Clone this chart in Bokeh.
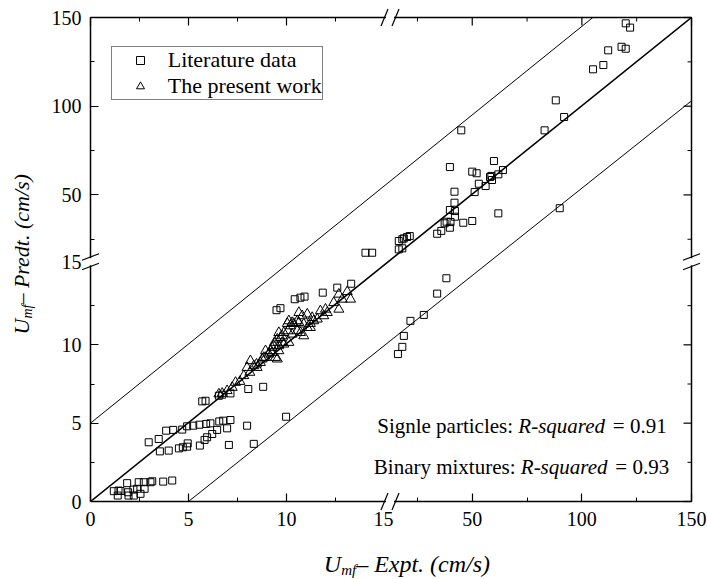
import numpy as np
from bokeh.plotting import figure
from bokeh.models import FixedTicker, Range1d
from bokeh.core.properties import value
from bokeh.embed import file_html
from bokeh.resources import INLINE

# ---- data: minimum fluidization velocity, predicted vs experimental (cm/s) ----
lit_expt = [1.19, 1.39, 1.43, 1.53, 1.87, 1.92, 1.94, 2.19, 2.21, 2.38, 2.46, 2.55, 2.72, 2.76,
            3.06, 3.15, 3.71, 4.17,
            2.97, 3.48, 3.54, 3.99, 3.86, 4.22, 4.68, 4.93, 5.24, 5.56, 5.90, 6.12, 6.57, 6.77,
            7.14, 4.51, 4.71, 4.93, 4.96, 5.58, 5.82, 5.95, 6.21, 6.46, 6.97, 7.06, 7.99, 8.33,
            5.70, 5.87, 6.55, 6.72, 7.14, 8.05, 8.81, 9.98,
            9.49, 9.69, 10.42, 10.71, 10.92, 11.85, 12.59, 13.30,
            14.03, 14.37,
            16.1, 18.1, 18.8, 21.8, 27.9, 34.0, 38.2,
            16.5, 18.1, 16.5, 18.1, 18.8, 20.3, 21.5,
            34.0, 35.9, 39.8, 37.4, 38.3, 40.1, 42.1, 45.9, 50.0, 39.8, 42.1, 41.9, 41.9, 39.8,
            45.0, 50.0, 52.0, 53.0, 51.1, 56.1, 58.1, 58.7, 59.0, 61.9, 64.0, 59.9, 61.9,
            83.0, 88.1, 91.9, 89.9, 105.1, 109.8, 112.0, 118.1, 120.0, 120.0, 122.0]
lit_pred = [0.66, 0.38, 0.70, 0.67, 1.17, 0.59, 0.38, 0.76, 0.38, 0.81, 1.23, 0.49, 1.23, 0.81,
            1.23, 1.29, 1.27, 1.34,
            3.78, 3.99, 3.20, 3.25, 4.52, 4.57, 4.59, 4.80, 4.84, 4.90, 4.95, 4.99, 5.11, 5.16,
            5.20, 3.39, 3.46, 3.50, 3.71, 3.57, 3.93, 4.10, 4.31, 4.57, 4.67, 3.61, 4.84, 3.68,
            6.39, 6.43, 6.75, 6.82, 6.90, 7.18, 7.32, 5.41,
            12.21, 12.34, 12.91, 13.01, 13.08, 13.33, 13.65, 13.90,
            17.4, 17.4,
            9.41, 9.87, 10.57, 11.53, 11.91, 13.27, 14.25,
            19.3, 19.9, 24.0, 25.0, 25.5, 26.3, 26.8,
            28.1, 29.7, 31.5, 34.0, 34.9, 34.7, 37.7, 34.3, 35.3, 41.5, 40.9, 45.6, 51.8, 65.7,
            86.4, 63.1, 62.2, 56.3, 51.6, 55.0, 60.1, 60.7, 58.4, 61.6, 64.0, 69.1, 39.6,
            86.4, 103.3, 93.9, 42.5, 120.8, 123.2, 131.5, 133.5, 132.4, 146.7, 144.3]

pw_expt = [6.55, 6.72, 6.97, 7.23, 7.40, 7.62, 7.82, 8.13, 8.33, 8.47, 8.67, 8.84, 8.76, 9.10,
           9.27, 9.44, 9.53, 9.27, 9.39, 9.53, 9.69, 9.78, 9.86, 10.07, 10.04, 10.20, 10.37,
           10.63, 10.88, 11.22, 11.39, 9.61, 9.86, 10.12, 10.29, 10.55, 10.71, 10.88, 11.06,
           8.50, 8.16, 7.99, 8.93,
           12.67, 13.10, 13.27, 12.67, 11.99, 12.08, 11.90, 11.31, 11.22, 11.06, 10.80, 10.63,
           10.55, 10.29, 10.12, 9.61, 9.78, 9.35, 9.61, 9.18, 8.93, 12.84, 12.41, 11.57, 11.73]
pw_pred = [6.86, 6.90, 7.07, 7.28, 7.60, 7.66, 8.03, 8.24, 8.66, 8.77, 8.87, 9.19, 9.09, 9.41,
           9.51, 9.19, 9.09, 9.83, 10.15, 10.36, 10.46, 10.57, 10.78, 10.89, 11.36, 11.21, 11.36,
           11.42, 11.32, 11.36, 11.53, 9.94, 10.04, 10.15, 10.68, 10.89, 10.78, 10.57, 11.10,
           8.55, 8.98, 8.55, 9.62,
           13.23, 13.39, 12.91, 12.27, 12.27, 12.06, 11.85, 11.74, 11.10, 11.96, 11.85, 12.06,
           11.53, 11.42, 11.53, 10.78, 10.15, 9.94, 9.62, 9.62, 9.19, 12.91, 12.69, 11.64, 12.17]

# parity line and deviation band (end points, cm/s)
parity_x = [0, 150]
parity_y = [0, 150]
upper_x = [0, 105]
upper_y = [5, 150]
lower_x = [5, 150]
lower_y = [0, 103]

major_vals = [0, 5, 10, 50, 100, 150]
minor_vals = [2.5, 7.5, 12.5, 25, 75, 125]
break_val = 15
top_val = 150
r2_single = 0.91
r2_binary = 0.93

# ---- broken axis: 0-15 and 15-150 each get about half of the frame ----
X_LO, X_GAP, X_HI = 294.0, 11.0, 296.0
Y_LO, Y_GAP, Y_HI = 235.0, 9.5, 239.5
W = X_LO + X_GAP + X_HI
H = Y_LO + Y_GAP + Y_HI


def fold(v, lo, gap, hi):
    v = np.asarray(v, dtype=float)
    return np.where(v <= break_val, v / break_val * lo,
                    lo + gap + (v - break_val) / (top_val - break_val) * hi)


def fx(v):
    return fold(v, X_LO, X_GAP, X_HI)


def fy(v):
    return fold(v, Y_LO, Y_GAP, Y_HI)


FONT = "Liberation Serif"
BASE_SHIFT = 8  # lifts alphabetic-baseline text onto its intended baseline

# Times-compatible advance widths (1/1000 em) for laying out mixed-style text
REG = {' ': 250, '(': 333, ')': 333, '-': 333, '.': 250, '/': 278, ':': 278, '=': 564,
       '0': 500, '1': 500, '3': 500, '9': 500, 'B': 667, 'S': 556, 'a': 444, 'b': 500,
       'c': 444, 'd': 500, 'e': 444, 'g': 500, 'i': 278, 'l': 278, 'm': 778, 'n': 500,
       'p': 500, 'r': 333, 's': 389, 't': 278, 'u': 500, 'x': 500, 'y': 500, '\u2013': 500}
ITA = {' ': 250, '(': 333, ')': 333, '-': 333, '.': 250, '/': 278, 'E': 611, 'P': 611,
       'R': 611, 'U': 722, 'a': 500, 'c': 444, 'd': 500, 'e': 444, 'f': 278, 'm': 722,
       'p': 500, 'q': 500, 'r': 389, 's': 389, 't': 278, 'u': 500, 'x': 444}


def advance(s, italic, size):
    table = ITA if italic else REG
    return sum(table[c] for c in s) * size / 1000.0


p = figure(frame_width=int(W), frame_height=int(H),
           x_range=Range1d(0, W), y_range=Range1d(0, H),
           output_backend="svg", toolbar_location=None,
           min_border_left=90, min_border_right=16, min_border_top=17, min_border_bottom=78,
           background_fill_color="white", border_fill_color="white")
p.outline_line_color = None
p.grid.visible = False

xt = [float(v) for v in fx(major_vals)]
yt = [float(v) for v in fy(major_vals)]
xm = [float(v) for v in fx(minor_vals)]
ym = [float(v) for v in fy(minor_vals)]

bottom_axis = p.below[0]
left_axis = p.left[0]


def style_axis(ax, ticks, minors, standoff):
    ax.ticker = FixedTicker(ticks=ticks, minor_ticks=minors)
    ax.axis_line_width = 1.5
    ax.axis_line_color = "black"
    ax.major_tick_in = 8
    ax.major_tick_out = 0
    ax.minor_tick_in = 4
    ax.minor_tick_out = 0
    ax.major_tick_line_width = 1.2
    ax.minor_tick_line_width = 1
    ax.major_tick_line_color = "black"
    ax.minor_tick_line_color = "black"
    ax.major_label_overrides = {t: str(v) for t, v in zip(ticks, major_vals)}
    ax.major_label_text_font = FONT
    ax.major_label_text_font_size = "20px"
    ax.major_label_text_color = "black"
    ax.major_label_standoff = standoff


style_axis(bottom_axis, xt, xm, 10)
style_axis(left_axis, yt, ym, 9)

# top and right frame edges with inward ticks, split at the break
p.segment([0, X_LO + X_GAP - 1.5, W, W], [H, H, 0, Y_LO + Y_GAP - 1.2],
          [X_LO + 1.5, W, W, W], [H, H, Y_LO + 1.2, H],
          line_color="black", line_width=1.5, level="overlay")
p.segment(xt, [H] * len(xt), xt, [H - 8] * len(xt),
          line_color="black", line_width=1.2, level="overlay")
p.segment(xm, [H] * len(xm), xm, [H - 4] * len(xm),
          line_color="black", line_width=1, level="overlay")
p.segment([W] * len(yt), yt, [W - 8] * len(yt), yt,
          line_color="black", line_width=1.2, level="overlay")
p.segment([W] * len(ym), ym, [W - 4] * len(ym), ym,
          line_color="black", line_width=1, level="overlay")

# parity line and deviation band
p.line(fx(parity_x), fy(parity_y), line_color="black", line_width=1.6)
p.line(fx(upper_x), fy(upper_y), line_color="black", line_width=1)
p.line(fx(lower_x), fy(lower_y), line_color="black", line_width=1)

# data
p.scatter(fx(lit_expt), fy(lit_pred), marker="square", size=7, fill_color=None,
          line_color="black", line_width=1, legend_label="Literature data")
p.scatter(fx(pw_expt), fy(pw_pred), marker="triangle", size=10, fill_color=None,
          line_color="black", line_width=1, legend_label="The present work")

leg = p.legend[0]
leg.label_text_font = FONT
leg.label_text_font_size = "22px"
leg.label_text_color = "black"
leg.glyph_width = 56
leg.glyph_height = 20
leg.label_height = 20
leg.label_standoff = 0
leg.padding = 0
leg.spacing = 0
leg.margin = 0
leg.location = (20.7, H - 25.7 - 57)
leg.border_line_color = "black"
leg.border_line_width = 1
leg.background_fill_color = "white"
leg.background_fill_alpha = 1

# axis break marks on the bottom and left axes: white gap plus a pair of slashes
p.quad(left=[X_LO + 1.5], right=[X_LO + X_GAP - 1.5], bottom=[-2.5], top=[2.5],
       fill_color="white", line_color=None, level="overlay")
p.quad(left=[-2.5], right=[2.5], bottom=[Y_LO + 1.2], top=[Y_LO + Y_GAP - 1.2],
       fill_color="white", line_color=None, level="overlay")
sx0, sy0, sx1, sy1 = [], [], [], []
for c in (X_LO, X_LO + X_GAP):
    for yb in (0.0, H):
        sx0.append(c - 3.5); sy0.append(yb - 8.5)
        sx1.append(c + 3.5); sy1.append(yb + 8.5)
for c in (Y_LO, Y_LO + Y_GAP):
    for xb in (0.0, W):
        sx0.append(xb - 8.5); sy0.append(c - 3.3)
        sx1.append(xb + 8.5); sy1.append(c + 3.3)
p.segment(sx0, sy0, sx1, sy1, line_color="black", line_width=1.2, level="overlay")

# "15" labels sitting at the breaks
p.text([X_LO - 1], [-10], text=[str(break_val)], text_font=value(FONT), text_font_size="20px",
       text_align="center", text_baseline="top", text_color="black", level="overlay")
p.text([-9], [Y_LO + 5], text=[str(break_val)], text_font=value(FONT), text_font_size="20px",
       text_align="right", text_baseline="middle", text_color="black", level="overlay")


def draw_pieces(pieces, x0, y0, vertical=False):
    pos = 0.0
    for txt, italic, size, drop, gap in pieces:
        pos += gap
        if vertical:
            x, y, ang = x0 + drop - BASE_SHIFT, y0 + pos, np.pi / 2
        else:
            x, y, ang = x0 + pos, y0 - drop + BASE_SHIFT, 0.0
        p.text([x], [y], text=[txt], angle=ang, text_font=value(FONT),
               text_font_size=f"{size}px", text_font_style="italic" if italic else "normal",
               text_align="left", text_baseline="alphabetic", text_color="black",
               level="overlay")
        pos += advance(txt, italic, size)


# axis titles
draw_pieces([("U", True, 24, 0, 0), ("mf", True, 15, 6, 0), ("\u2013", False, 24, 0, 0),
             ("Expt. (cm/s)", True, 24, 0, 6)], 233.3, -70)
draw_pieces([("U", True, 22, 0, 0), ("mf", True, 14, 5.5, 0), ("\u2013", False, 22, 0, 0),
             ("Predt. (cm/s)", True, 22, 0, 5.5)], -61, 167, vertical=True)

# goodness-of-fit notes
draw_pieces([("Signle particles: ", False, 21, 0, 0), ("R-squared", True, 21, 0, 0),
             (f"= {r2_single:.2f}", False, 21, 0, 7)], 286.7, 68)
draw_pieces([("Binary mixtures: ", False, 21, 0, 0), ("R-squared", True, 21, 0, 0),
             (f"= {r2_binary:.2f}", False, 21, 0, 7)], 283.3, 27)

open("out.html", "w").write(file_html(p, INLINE))
